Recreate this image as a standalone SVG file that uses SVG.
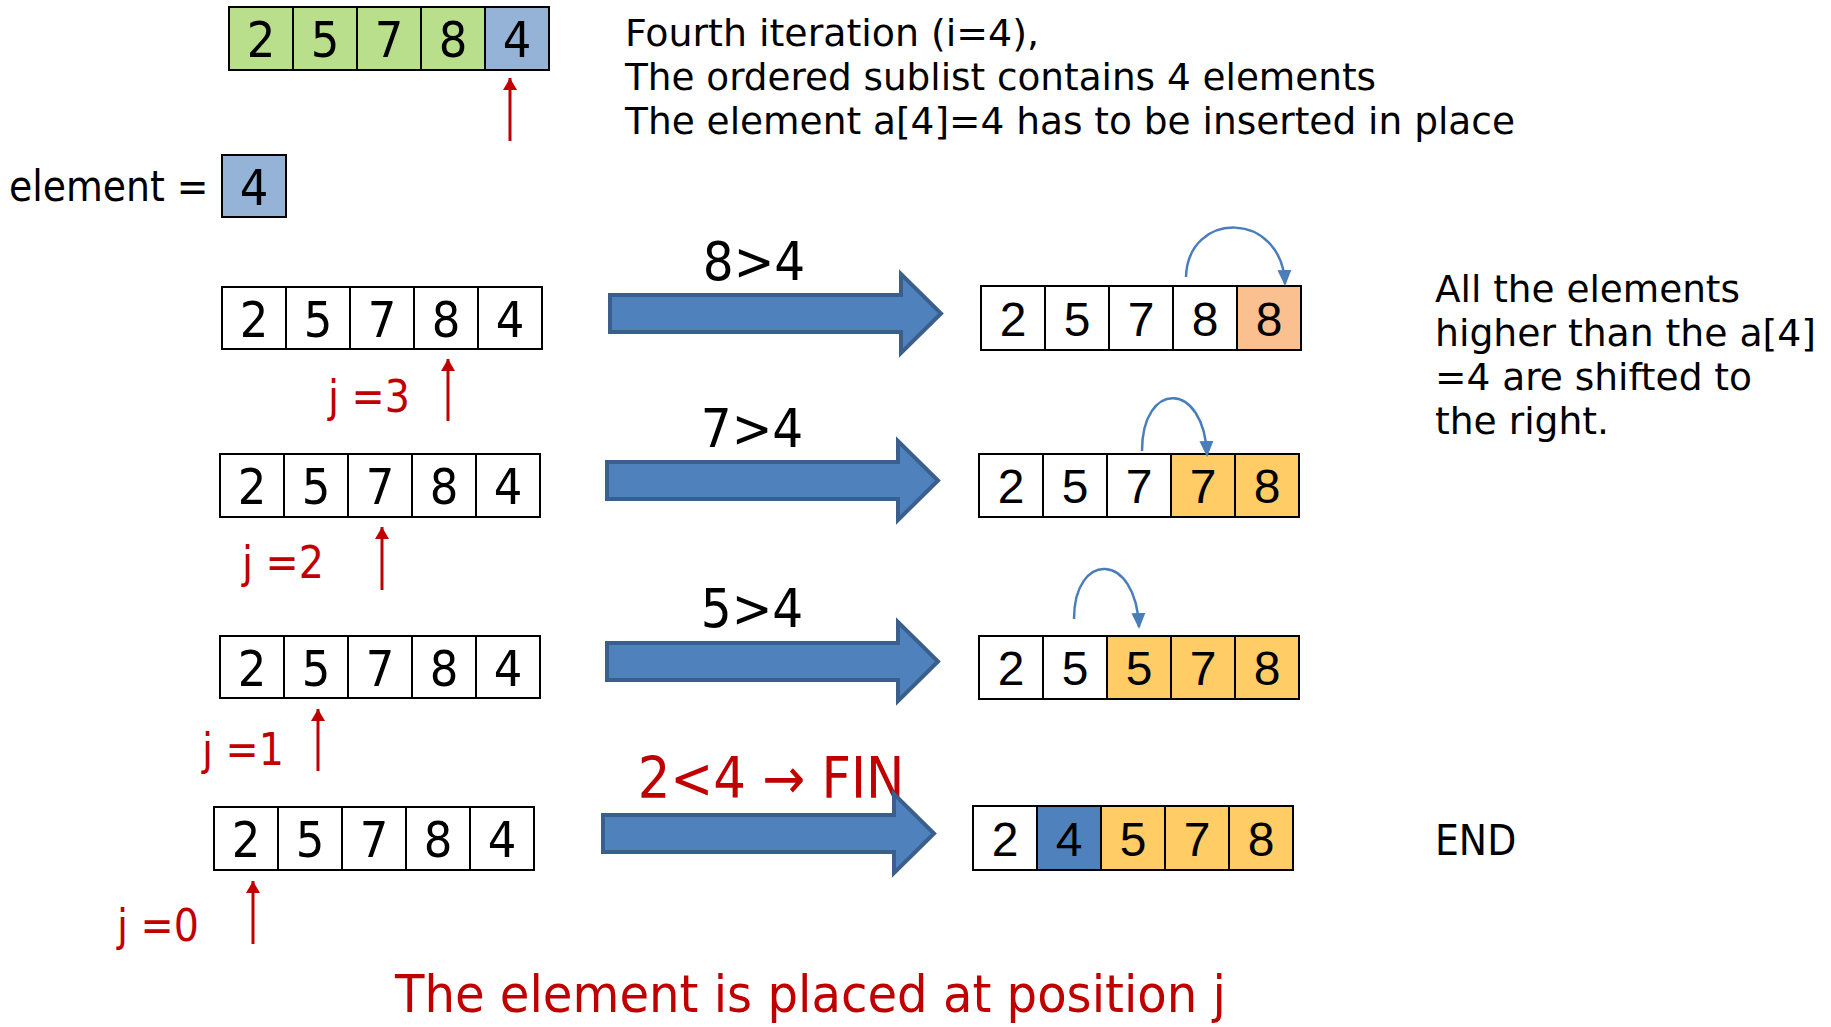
<svg xmlns="http://www.w3.org/2000/svg" width="1831" height="1027" viewBox="0 0 1831 1027">
<style>
text{font-family:"DejaVu Sans Condensed","DejaVu Sans",sans-serif;font-stretch:condensed;fill:#000}
.lbl{font-size:42px}
.txt{font-size:38px}
.jl{font-size:44px}
.red{fill:#C00000}
.cell{stroke:#000;stroke-width:2;fill:#fff}
.dg{font-size:50px;text-anchor:middle}
.dr{font-family:"Liberation Sans","Open Sans",sans-serif;font-stretch:normal;font-size:48px;text-anchor:middle}
.cmp{font-size:54px;text-anchor:middle}
.g{fill:#B9DF8D}.b{fill:#95B3D7}.o{fill:#FAC090}.y{fill:#FFCC66}.db{fill:#4F81BD}
.blk{fill:#4F81BD;stroke:#3A5F8D;stroke-width:4}
.rl{stroke:#C00000;stroke-width:3;fill:none}
.bl{stroke:#4A7EBB;stroke-width:2.5;fill:none}
</style>
<defs>
<marker id="ra" viewBox="0 0 12 22" refX="12" refY="11" markerWidth="12" markerHeight="22" markerUnits="userSpaceOnUse" orient="auto"><path d="M0,4 L12,11 L0,18 z" fill="#C00000"/></marker>
<marker id="ba" viewBox="0 0 16 16" refX="14" refY="8" markerWidth="16" markerHeight="16" markerUnits="userSpaceOnUse" orient="auto"><path d="M0,1 L16,8 L0,15 z" fill="#4A7EBB"/></marker>
<path id="blkarr" d="M0,21 L291,21 L291,0 L331,39.5 L291,79 L291,58 L0,58 Z"/>
</defs>

<g id="top-array">
<rect class="cell g" x="229" y="7" width="64" height="63"/><text class="dg" x="261" y="57">2</text>
<rect class="cell g" x="293" y="7" width="64" height="63"/><text class="dg" x="325" y="57">5</text>
<rect class="cell g" x="357" y="7" width="64" height="63"/><text class="dg" x="389" y="57">7</text>
<rect class="cell g" x="421" y="7" width="64" height="63"/><text class="dg" x="453" y="57">8</text>
<rect class="cell b" x="485" y="7" width="64" height="63"/><text class="dg" x="517" y="57">4</text>
</g>

<g id="intro-text">
<text class="txt" x="625" y="46" textLength="414" lengthAdjust="spacingAndGlyphs">Fourth iteration (i=4),</text>
<text class="txt" x="625" y="90" textLength="751" lengthAdjust="spacingAndGlyphs">The ordered sublist contains 4 elements</text>
<text class="txt" x="625" y="134" textLength="890" lengthAdjust="spacingAndGlyphs">The element a[4]=4 has to be inserted in place</text>
</g>

<g id="element">
<text class="lbl" x="9" y="201">element =</text>
<rect class="cell b" x="222" y="155" width="64" height="62"/><text class="dg" x="254" y="205">4</text>
</g>

<g id="row1-left">
<rect class="cell" x="222" y="287" width="64" height="62"/><text class="dg" x="254" y="337">2</text>
<rect class="cell" x="286" y="287" width="64" height="62"/><text class="dg" x="318" y="337">5</text>
<rect class="cell" x="350" y="287" width="64" height="62"/><text class="dg" x="382" y="337">7</text>
<rect class="cell" x="414" y="287" width="64" height="62"/><text class="dg" x="446" y="337">8</text>
<rect class="cell" x="478" y="287" width="64" height="62"/><text class="dg" x="510" y="337">4</text>
<text class="jl red" x="328" y="412">j =3</text>
</g>

<g id="row2-left">
<rect class="cell" x="220" y="454" width="64" height="63"/><text class="dg" x="252" y="504">2</text>
<rect class="cell" x="284" y="454" width="64" height="63"/><text class="dg" x="316" y="504">5</text>
<rect class="cell" x="348" y="454" width="64" height="63"/><text class="dg" x="380" y="504">7</text>
<rect class="cell" x="412" y="454" width="64" height="63"/><text class="dg" x="444" y="504">8</text>
<rect class="cell" x="476" y="454" width="64" height="63"/><text class="dg" x="508" y="504">4</text>
<text class="jl red" x="242" y="578">j =2</text>
</g>

<g id="row3-left">
<rect class="cell" x="220" y="636" width="64" height="62"/><text class="dg" x="252" y="686">2</text>
<rect class="cell" x="284" y="636" width="64" height="62"/><text class="dg" x="316" y="686">5</text>
<rect class="cell" x="348" y="636" width="64" height="62"/><text class="dg" x="380" y="686">7</text>
<rect class="cell" x="412" y="636" width="64" height="62"/><text class="dg" x="444" y="686">8</text>
<rect class="cell" x="476" y="636" width="64" height="62"/><text class="dg" x="508" y="686">4</text>
<text class="jl red" x="202" y="765">j =1</text>
</g>

<g id="row4-left">
<rect class="cell" x="214" y="807" width="64" height="63"/><text class="dg" x="246" y="857">2</text>
<rect class="cell" x="278" y="807" width="64" height="63"/><text class="dg" x="310" y="857">5</text>
<rect class="cell" x="342" y="807" width="64" height="63"/><text class="dg" x="374" y="857">7</text>
<rect class="cell" x="406" y="807" width="64" height="63"/><text class="dg" x="438" y="857">8</text>
<rect class="cell" x="470" y="807" width="64" height="63"/><text class="dg" x="502" y="857">4</text>
<text class="jl red" x="117" y="941">j =0</text>
</g>

<g id="row1-right">
<rect class="cell" x="981" y="286" width="64" height="64"/><text class="dr" x="1013" y="336">2</text>
<rect class="cell" x="1045" y="286" width="64" height="64"/><text class="dr" x="1077" y="336">5</text>
<rect class="cell" x="1109" y="286" width="64" height="64"/><text class="dr" x="1141" y="336">7</text>
<rect class="cell" x="1173" y="286" width="64" height="64"/><text class="dr" x="1205" y="336">8</text>
<rect class="cell o" x="1237" y="286" width="64" height="64"/><text class="dr" x="1269" y="336">8</text>
</g>

<g id="row2-right">
<rect class="cell" x="979" y="454" width="64" height="63"/><text class="dr" x="1011" y="503">2</text>
<rect class="cell" x="1043" y="454" width="64" height="63"/><text class="dr" x="1075" y="503">5</text>
<rect class="cell" x="1107" y="454" width="64" height="63"/><text class="dr" x="1139" y="503">7</text>
<rect class="cell y" x="1171" y="454" width="64" height="63"/><text class="dr" x="1203" y="503">7</text>
<rect class="cell y" x="1235" y="454" width="64" height="63"/><text class="dr" x="1267" y="503">8</text>
</g>

<g id="row3-right">
<rect class="cell" x="979" y="636" width="64" height="63"/><text class="dr" x="1011" y="685">2</text>
<rect class="cell" x="1043" y="636" width="64" height="63"/><text class="dr" x="1075" y="685">5</text>
<rect class="cell y" x="1107" y="636" width="64" height="63"/><text class="dr" x="1139" y="685">5</text>
<rect class="cell y" x="1171" y="636" width="64" height="63"/><text class="dr" x="1203" y="685">7</text>
<rect class="cell y" x="1235" y="636" width="64" height="63"/><text class="dr" x="1267" y="685">8</text>
</g>

<g id="row4-right">
<rect class="cell" x="973" y="806" width="64" height="64"/><text class="dr" x="1005" y="856">2</text>
<rect class="cell db" x="1037" y="806" width="64" height="64"/><text class="dr" x="1069" y="856">4</text>
<rect class="cell y" x="1101" y="806" width="64" height="64"/><text class="dr" x="1133" y="856">5</text>
<rect class="cell y" x="1165" y="806" width="64" height="64"/><text class="dr" x="1197" y="856">7</text>
<rect class="cell y" x="1229" y="806" width="64" height="64"/><text class="dr" x="1261" y="856">8</text>
</g>

<g id="comparisons">
<text class="cmp" x="754" y="280">8&gt;4</text>
<text class="cmp" x="752" y="447">7&gt;4</text>
<text class="cmp" x="752" y="627">5&gt;4</text>
<text class="cmp red" x="771" y="798" style="font-size:57px">2&lt;4 → FIN</text>
</g>

<g id="notes">
<text class="txt" x="1435" y="302" textLength="305" lengthAdjust="spacingAndGlyphs">All the elements</text>
<text class="txt" x="1435" y="346" textLength="381" lengthAdjust="spacingAndGlyphs">higher than the a[4]</text>
<text class="txt" x="1435" y="390" textLength="317" lengthAdjust="spacingAndGlyphs">=4 are shifted to</text>
<text class="txt" x="1435" y="434" textLength="174" lengthAdjust="spacingAndGlyphs">the right.</text>
<text class="lbl" x="1435" y="855">END</text>
<text class="red" x="395" y="1012" style="font-size:52px" textLength="831" lengthAdjust="spacingAndGlyphs">The element is placed at position j</text>
</g>

<g id="connectors">
<use href="#blkarr" class="blk" transform="translate(610,274)"/>
<use href="#blkarr" class="blk" transform="translate(607,441)"/>
<use href="#blkarr" class="blk" transform="translate(607,622)"/>
<use href="#blkarr" class="blk" transform="translate(603,794)"/>
<line class="rl" x1="510" y1="141" x2="510" y2="78" marker-end="url(#ra)"/>
<line class="rl" x1="448" y1="421" x2="448" y2="359" marker-end="url(#ra)"/>
<line class="rl" x1="382" y1="590" x2="382" y2="527" marker-end="url(#ra)"/>
<line class="rl" x1="318" y1="771" x2="318" y2="709" marker-end="url(#ra)"/>
<line class="rl" x1="253" y1="944" x2="253" y2="881" marker-end="url(#ra)"/>
<path class="bl" d="M1186,277 C1188,210 1282,210 1285,284" marker-end="url(#ba)"/>
<path class="bl" d="M1142,451 C1142,380 1204,380 1207,455" marker-end="url(#ba)"/>
<path class="bl" d="M1074,619 C1074,551 1136,551 1139,627" marker-end="url(#ba)"/>
</g>
</svg>
